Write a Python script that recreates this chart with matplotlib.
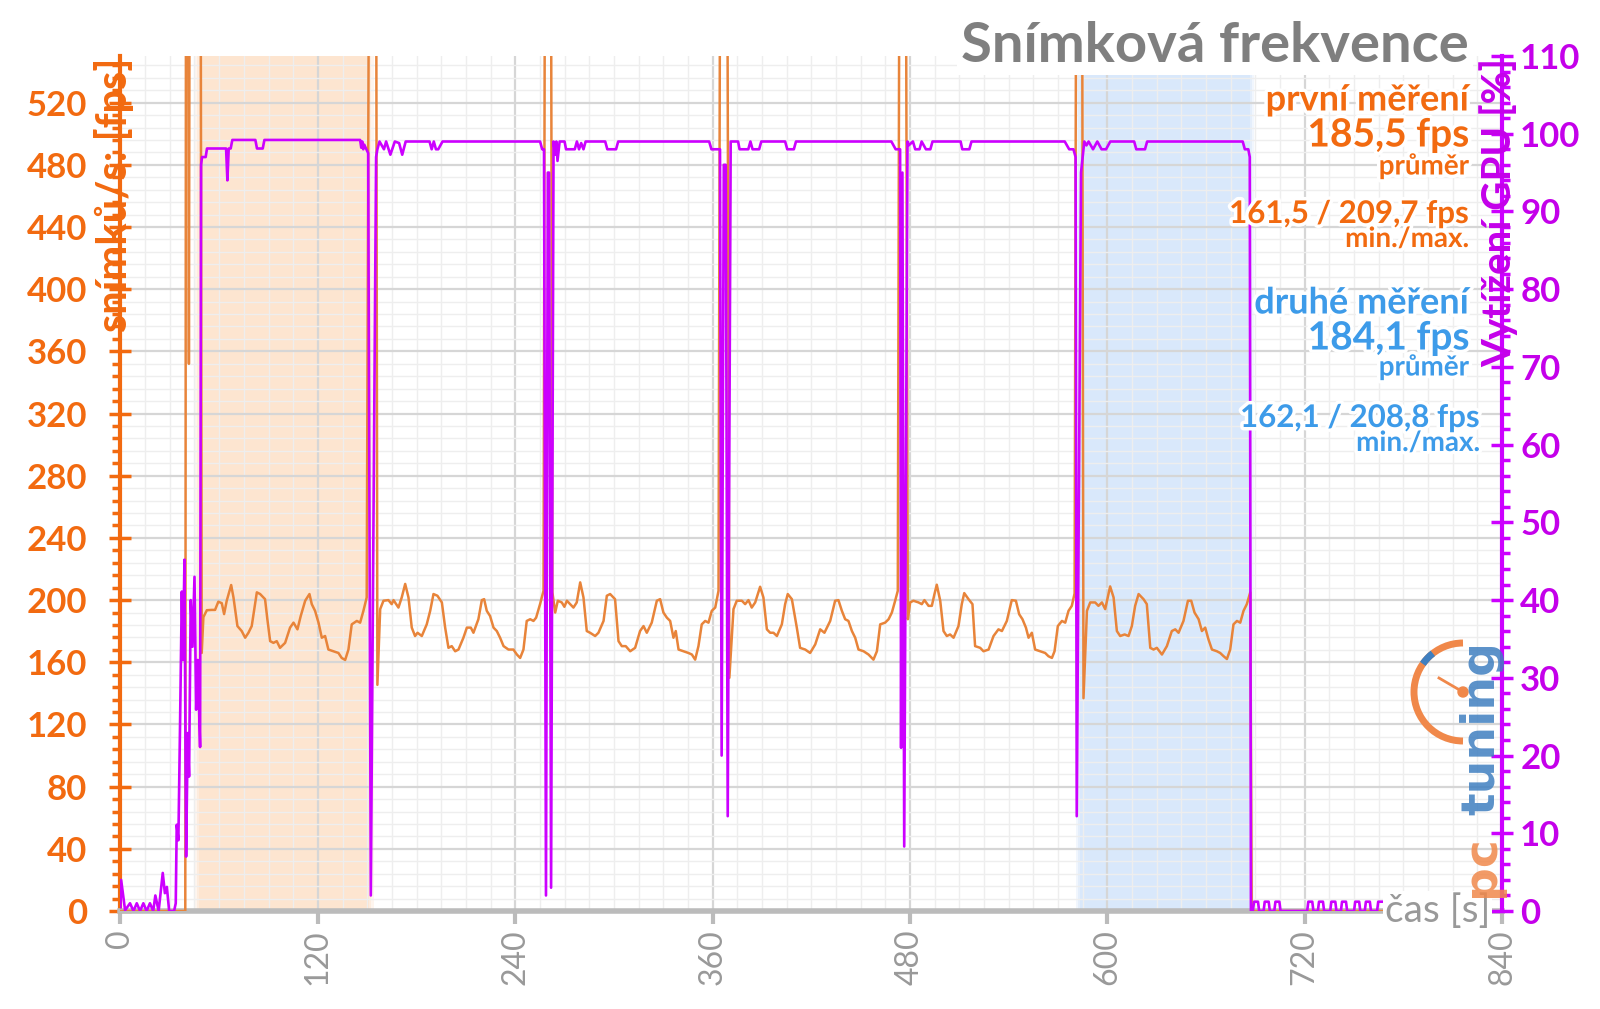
import numpy as np
import matplotlib
matplotlib.use("Agg")
import matplotlib.pyplot as plt
from matplotlib.patches import Arc, Circle
from matplotlib.lines import Line2D
from matplotlib.transforms import IdentityTransform
import matplotlib.patheffects as pe

# ---------------- data ----------------
x_ticks = [0, 120, 240, 360, 480, 600, 720, 840]
fps_ticks = list(range(0, 521, 40))
gpu_ticks = list(range(0, 111, 10))

# FPS (frames per second), pieces in time order
fps_lead_t = [0, 39.4, 39.8, 41.2, 41.6, 42.0, 48.8]
fps_lead_v = [0, 0, 600, 600, 352, 600, 600]

run1_t = [49.4, 50.4, 52.5, 55.5, 57.5, 59.5, 61.6, 63.0, 64.6, 67.3, 68.7, 71.1, 73.7, 75.8, 77.8, 79.8,
          81.2, 82.9, 84.9, 87.9, 89.3, 91.0, 93.0, 95.0, 97.0, 100.1, 103.1, 105.2, 107.6, 109.6, 112.3,
          114.9, 116.3, 118.3, 120.4, 122.4, 124.4, 126.4, 129.5, 132.5, 134.5, 136.6, 138.6, 140.6, 143.7,
          145.7, 147.7, 149.7]
run1_fps = [166, 189, 193.5, 193.7, 193.7, 199, 198, 191, 199.6, 209.7, 201.7, 183.3, 180.1, 175.8, 179, 183.3,
            193.1, 205, 203.9, 200.6, 187.7, 173.6, 172.5, 173.6, 169.3, 172.5, 182.3, 185.5, 181.2, 189.8, 199.6,
            203.9, 197.4, 193.1, 185.5, 175.8, 176.9, 168.2, 167.1, 166.0, 162.8, 161.5, 168.2, 184.4, 186.6,
            185.5, 193.1, 201.7]
trans1_t = [151.0, 155.5]
trans1_v = [600, 600]

run2_t = [156.2, 157.9, 159.9, 162.9, 164.9, 166.0, 169.0, 171.0, 173.1, 175.1, 177.1, 179.1, 180.6, 183.2,
          186.2, 188.3, 190.3, 192.7, 195.4, 197.4, 199.4, 201.4, 203.5, 205.5, 208.5, 210.6, 213.0, 214.6,
          217.6, 219.7, 221.1, 222.7, 224.7, 226.8, 228.8, 230.8, 232.9, 235.9, 238.9, 241.0, 243.0, 245.0,
          247.0, 249.1, 251.1, 252.7, 255.1, 257.2]
run2_fps = [145.5, 194.2, 199.6, 200.0, 197.4, 200.0, 195.2, 201.7, 210.4, 201.7, 182.3, 176.9, 179.0, 176.9,
            184.4, 193.1, 203.9, 202.8, 198.5, 182.3, 169.3, 170.4, 167.1, 168.2, 175.8, 182.3, 182.3, 179.0,
            187.7, 200.0, 200.6, 193.1, 189.8, 182.3, 180.1, 175.8, 170.4, 168.2, 168.2, 165.0, 162.8, 168.2,
            186.6, 187.7, 186.6, 188.7, 197.4, 206.0]
trans2_t = [258.0, 261.8]
trans2_v = [600, 600]

run3_t = [262.6, 264.3, 265.9, 268.3, 269.9, 271.4, 273.4, 275.4, 277.4, 279.5, 281.5, 283.5, 285.5, 288.6,
          290.6, 293.7, 295.7, 297.7, 300.7, 302.8, 304.8, 307.2, 309.9, 312.9, 315.9, 318.0, 320.0, 323.0,
          326.1, 328.1, 330.1, 332.2, 334.2, 336.2, 337.6, 339.3, 342.3, 345.3, 347.4, 349.4, 351.4, 353.4,
          355.5, 357.5, 359.5, 361.6, 363.6]
run3_fps = [205.0, 192.0, 199.6, 198.5, 195.7, 199.6, 197.4, 195.2, 198.5, 211.4, 201.7, 180.1, 179.0, 176.9,
            179.0, 186.6, 202.8, 203.9, 200.6, 173.6, 170.4, 170.4, 167.1, 169.3, 180.1, 183.3, 179.0, 185.5,
            199.6, 200.6, 192.0, 188.7, 186.6, 175.8, 180.1, 168.2, 167.1, 166.0, 165.0, 161.7, 170.4, 184.4,
            186.6, 185.5, 193.1, 195.2, 206.0]
trans3_t = [364.5, 369.0, 370.2]
trans3_v = [600, 600, 150]

run4_t = [372.7, 374.7, 377.8, 379.8, 381.8, 383.8, 385.9, 388.9, 390.9, 393.0, 395.0, 397.0, 399.1, 402.1,
          404.1, 405.7, 408.2, 411.2, 413.2, 416.3, 419.3, 422.4, 425.4, 428.0, 431.5, 434.5, 436.5, 438.6,
          440.6, 442.6, 444.7, 446.7, 448.7, 451.8, 454.8, 457.8, 459.9, 461.9, 464.9, 467.0, 469.0, 471.0,
          472.6]
run4_fps = [194.2, 199.6, 199.6, 197.4, 200.0, 195.2, 198.5, 208.6, 201.7, 181.2, 179.0, 179.0, 176.9, 184.4,
            197.4, 203.9, 200.6, 182.3, 169.3, 168.2, 166.0, 171.5, 181.2, 179.0, 186.6, 199.6, 200.0, 193.1,
            187.7, 186.6, 180.1, 175.8, 168.2, 167.1, 165.0, 161.7, 167.1, 184.4, 185.5, 187.7, 192.0, 199.6,
            206.0]
trans4_t = [473.5, 477.6]
trans4_v = [600, 600]

run5_t = [478.7, 480.1, 482.1, 485.2, 487.2, 488.8, 491.3, 493.3, 494.9, 496.3, 498.4, 500.4, 502.4, 504.4,
          506.5, 509.5, 511.5, 513.0, 515.6, 518.0, 519.6, 522.7, 524.7, 527.8, 530.8, 533.8, 535.9, 538.9,
          541.9, 544.4, 546.4, 548.4, 550.5, 552.1, 554.1, 556.1, 559.2, 562.2, 564.2, 566.3, 567.9, 569.9,
          572.4, 574.4, 576.4, 578.4, 580.1]
run5_fps = [187.7, 198.5, 199.6, 198.5, 197.4, 200.0, 196.3, 196.3, 203.9, 209.9, 199.6, 180.1, 176.9, 177.9,
            175.8, 183.3, 197.4, 204.5, 200.6, 197.4, 170.4, 169.3, 167.1, 168.2, 176.9, 181.2, 180.1, 186.6,
            200.0, 199.6, 190.9, 187.7, 182.3, 175.8, 179.0, 168.2, 167.1, 166.0, 163.9, 162.8, 167.1, 183.3,
            186.6, 185.5, 193.1, 196.3, 204.3]
trans5_t = [581.0, 584.7]
trans5_v = [600, 600]

run6_t = [585.5, 587.6, 589.6, 592.6, 594.6, 596.7, 598.7, 601.7, 603.8, 605.8, 607.8, 610.5, 612.9, 614.9,
          616.9, 619.0, 622.0, 624.0, 626.1, 628.1, 630.1, 633.2, 636.2, 639.2, 641.3, 643.3, 646.3, 649.0,
          651.0, 653.0, 655.5, 657.5, 659.5, 661.5, 663.6, 666.6, 668.6, 670.7, 672.7, 674.7, 676.7, 678.8,
          680.8, 682.8, 684.8, 686.9]
run6_fps = [136.9, 193.1, 198.5, 198.5, 196.3, 198.5, 194.2, 208.8, 201.7, 180.1, 176.9, 177.9, 176.9, 183.3,
            196.3, 203.9, 200.6, 197.4, 169.3, 168.2, 169.3, 165.0, 170.4, 180.1, 181.2, 179.0, 186.6, 199.6,
            199.6, 192.0, 187.7, 180.1, 182.3, 174.7, 168.2, 167.1, 166.0, 163.9, 162.1, 168.2, 184.4, 186.6,
            185.5, 193.1, 197.4, 205.0]
fps_tail_t = [687.8, 768.0]
fps_tail_v = [0, 0]

# GPU utilisation [%]
gpu_idle_t = [0.0, 0.4, 2.8, 5.8, 7.9, 9.9, 11.9, 13.9, 15.9, 17.9, 19.9, 21.2, 23.2, 25.7, 27.0, 28.2, 29.6,
              32.6, 33.6, 34.2, 35.2, 36.2, 37.3, 38.0, 38.9, 39.9, 40.9, 41.7, 42.7, 43.8, 45.0, 46.0, 47.0, 48.4]
gpu_idle_v = [0.5, 4.0, 0.1, 1.0, 0.0, 1.0, 0.0, 1.0, 0.0, 1.0, 0.0, 2.0, 0.0, 4.9, 2.3, 3.1, 0.0,
              0.0, 1.0, 11.1, 9.1, 23.7, 41.1, 32.3, 45.2, 7.0, 22.9, 17.3, 40.0, 34.0, 43.0, 25.9, 32.3, 21.1]
gpu_run1_t = [49.0, 49.6, 51.8, 52.6, 64.2, 65.0, 65.8, 67.0, 68.0, 82.0, 83.0, 86.5, 87.5, 145.7, 146.4,
              147.0, 147.6, 148.2, 149.5, 150.6, 152.2]
gpu_run1_v = [96.0, 97.0, 97.0, 98.1, 98.1, 94.0, 98.1, 98.1, 99.2, 99.2, 98.1, 98.1, 99.2, 99.2, 98.2,
              99.0, 98.0, 98.6, 98.0, 97.5, 2.0]
gpu_run2_t = [155.4, 156.2, 157.5, 160.2, 161.5, 164.1, 166.8, 169.4, 171.3, 173.4, 187.9, 189.2, 190.5,
              191.8, 193.2, 195.8, 255.1, 256.4, 257.5, 258.7, 259.8, 260.6, 261.8]
gpu_run2_v = [97.0, 98.0, 99.0, 98.0, 99.0, 97.3, 99.0, 98.8, 97.3, 99.0, 99.0, 98.0, 99.0,
              98.0, 98.0, 99.0, 99.0, 98.0, 98.0, 2.0, 95.0, 95.0, 3.0]
gpu_run3_t = [263.3, 264.3, 265.0, 265.7, 267.0, 270.0, 270.9, 276.2, 277.5, 278.8, 280.1, 281.5, 282.8,
              294.7, 296.0, 301.3, 302.6, 357.9, 359.3, 364.5, 365.5]
gpu_run3_v = [99.0, 97.3, 99.0, 96.5, 99.0, 99.0, 98.0, 98.0, 99.0, 98.0, 98.8, 98.0, 99.0,
              99.0, 98.0, 98.0, 99.0, 99.0, 98.0, 98.0, 20.0]
gpu_run4_t = [366.8, 368.0, 369.2, 371.0, 375.5, 376.4, 381.7, 383.0, 384.3, 388.3, 389.6, 404.1, 405.4,
              409.4, 410.7, 468.7, 471.3, 474.0, 474.6]
gpu_run4_v = [96.0, 96.0, 12.2, 99.0, 99.0, 98.0, 98.0, 99.0, 98.0, 98.0, 99.0, 99.0, 98.0,
              98.0, 99.0, 99.0, 98.0, 98.0, 21.0]
gpu_run5_t = [475.4, 476.5, 478.5, 479.2, 481.8, 483.2, 485.8, 487.1, 489.7, 492.4, 493.7, 510.8, 511.8,
              516.1, 517.4, 574.1, 576.8, 579.4, 580.7, 581.4]
gpu_run5_v = [95.0, 8.3, 99.0, 98.5, 99.0, 98.0, 98.0, 99.0, 98.0, 98.0, 99.0, 99.0, 98.0,
              98.0, 99.0, 99.0, 98.0, 98.0, 97.0, 12.2]
gpu_run6_t = [584.0, 586.0, 587.3, 588.6, 591.3, 593.9, 596.5, 599.2, 601.8, 616.3, 617.6, 622.9, 624.2,
              682.3, 683.6, 685.7, 686.6, 687.3]
gpu_run6_v = [95.0, 99.0, 98.5, 99.0, 98.0, 99.0, 98.0, 98.0, 99.0, 99.0, 98.0, 98.0, 99.0,
              99.0, 98.0, 98.0, 97.0, 0.0]
gpu_tail_t = [688.5, 689.2, 691.6, 692.3, 695.0, 695.7, 698.1, 698.8, 701.5, 702.2, 704.6, 705.3,
              721.5, 722.2, 724.6, 725.3, 728.0, 728.7, 731.1, 731.8, 735.5, 736.2, 738.6, 739.3,
              742.0, 742.7, 745.1, 745.8, 750.0, 750.7, 753.1, 753.8, 756.5, 757.2, 759.6, 760.3,
              764.0, 764.7, 767.0]
gpu_tail_v = [0, 1.2, 1.2, 0, 0, 1.2, 1.2, 0, 0, 1.2, 1.2, 0,
              0, 1.2, 1.2, 0, 0, 1.2, 1.2, 0, 0, 1.2, 1.2, 0,
              0, 1.2, 1.2, 0, 0, 1.2, 1.2, 0, 0, 1.2, 1.2, 0,
              0, 1.2, 1.2]

first_run_span = (47.8, 151.4)
second_run_span = (583.2, 686.9)

# ---------------- styling ----------------
ORANGE = '#f26a10'
FPS_LINE = '#e8843a'
MAGENTA = '#cc00ff'
MAG_TXT = '#c400ea'
BLUE = '#3d9be9'
GRAY = '#999999'

plt.rcParams['font.family'] = ['Lato', 'DejaVu Sans']

W, H = 1600, 1009
fig = plt.figure(figsize=(W / 100, H / 100), dpi=100)
ax = fig.add_axes([0.0753, 0.0971, 0.8635, 0.8474])
ax2 = ax.twinx()

fps_t = np.concatenate([fps_lead_t, run1_t, trans1_t, run2_t, trans2_t, run3_t, trans3_t, run4_t,
                        trans4_t, run5_t, trans5_t, run6_t, fps_tail_t])
fps_v = np.concatenate([fps_lead_v, run1_fps, trans1_v, run2_fps, trans2_v, run3_fps, trans3_v, run4_fps,
                        trans4_v, run5_fps, trans5_v, run6_fps, fps_tail_v])
gpu_t = np.concatenate([gpu_idle_t, gpu_run1_t, gpu_run2_t, gpu_run3_t, gpu_run4_t, gpu_run5_t,
                        gpu_run6_t, gpu_tail_t])
gpu_v = np.concatenate([gpu_idle_v, gpu_run1_v, gpu_run2_v, gpu_run3_v, gpu_run4_v, gpu_run5_v,
                        gpu_run6_v, gpu_tail_v])

ax.set_xlim(0, 840)
ax.set_ylim(0, 550)
ax2.set_ylim(0, 110)

# shaded runs with soft edges
for (a, b), col in [(first_run_span, '#fde5d0'), (second_run_span, '#d9e8fb')]:
    ax.axvspan(a - 2.5, b + 2.5, color=col, alpha=0.35, lw=0, zorder=0)
    ax.axvspan(a - 1.0, b + 1.0, color=col, alpha=0.5, lw=0, zorder=0)
    ax.axvspan(a, b, color=col, lw=0, zorder=0)

ax.set_axisbelow(True)
ax.set_xticks(x_ticks)
ax.set_xticks(np.arange(0, 841, 15), minor=True)
ax.set_yticks(fps_ticks)
ax.set_yticks(np.arange(0, 551, 8), minor=True)
ax.grid(which='major', color='#d6d6d6', lw=1.6)
ax.grid(which='minor', color='#eeeeee', lw=1.0)

ax2.set_yticks(gpu_ticks)
ax2.set_yticks(np.arange(0, 111, 2), minor=True)

ax.plot(fps_t, fps_v, color=FPS_LINE, lw=1.8, zorder=3)
ax2.plot(gpu_t, gpu_v, color=MAGENTA, lw=1.9, zorder=3)

for s in ['top', 'right']:
    ax.spines[s].set_visible(False)
for s in ['top', 'left', 'bottom']:
    ax2.spines[s].set_visible(False)
ax.spines['left'].set_color(ORANGE)
ax.spines['left'].set_linewidth(3)
ax.spines['bottom'].set_color('#bbbbbb')
ax.spines['bottom'].set_linewidth(4)
ax2.spines['right'].set_color(MAGENTA)
ax2.spines['right'].set_linewidth(3)

ax.tick_params(axis='y', which='major', direction='inout', length=16, width=2.5, color=ORANGE,
               labelcolor=ORANGE, labelsize=25, pad=16)
ax.tick_params(axis='y', which='minor', direction='out', length=6, width=2.5, color=ORANGE)
ax.tick_params(axis='x', which='major', direction='out', length=9, width=3, color='#bbbbbb',
               labelcolor=GRAY, labelsize=23, labelrotation=90, pad=4)
ax.tick_params(axis='x', which='minor', length=0)
ax2.tick_params(axis='y', which='major', direction='inout', length=16, width=2.5, color=MAGENTA,
                labelcolor=MAG_TXT, labelsize=25, pad=5)
ax2.tick_params(axis='y', which='minor', direction='out', length=6, width=2.5, color=MAGENTA)
for lbl in ax.get_yticklabels() + ax2.get_yticklabels():
    lbl.set_fontweight('bold')


def ftxt(xp, yp, s, **kw):
    return fig.text(xp / W, 1 - yp / H, s, **kw)


halo = [pe.withStroke(linewidth=5, foreground='white')]

# axis labels
ftxt(114, 58, 'snímků/s: [fps]', rotation=90, ha='center', va='top', color=ORANGE,
     fontsize=30, fontweight='bold')
ftxt(1499, 58, 'Vytížení GPU [%]', rotation=90, ha='center', va='top', color=MAG_TXT,
     fontsize=29, fontweight='bold')
ftxt(1490, 911, 'čas [s]', ha='right', va='center', color=GRAY, fontsize=28,
     bbox=dict(fc='white', ec='none', pad=1))

# title
ftxt(1469, 46, 'Snímková frekvence', ha='right', va='center', color='#7f7f7f', fontsize=40.5,
     fontweight='bold', bbox=dict(fc='white', ec='none', pad=3))

# legend-like text block
blk = [
    (100, 'první měření', 26, ORANGE, 1469),
    (135, '185,5 fps', 28, ORANGE, 1469),
    (166, 'průměr', 20, ORANGE, 1469),
    (214, '161,5 / 209,7 fps', 22.5, ORANGE, 1469),
    (239, 'min./max.', 20, ORANGE, 1469),
    (303, 'druhé měření', 26, BLUE, 1469),
    (338, '184,1 fps', 28, BLUE, 1469),
    (367, 'průměr', 20, BLUE, 1469),
    (418, '162,1 / 208,8 fps', 22.5, BLUE, 1480),
    (443, 'min./max.', 20, BLUE, 1480),
]
for yp, s, fs, col, xp in blk:
    ftxt(xp, yp, s, ha='right', va='center', color=col, fontsize=fs, fontweight='bold',
         path_effects=halo)

# pctuning logo
LOGO_O = '#f0884a'
LOGO_B = '#3f7fc0'
ftxt(1482, 897, 'pc', rotation=90, ha='center', va='bottom', color=LOGO_O, fontsize=34,
     fontweight='bold', alpha=0.85, family='DejaVu Sans')
ftxt(1482, 815, 'tuning', rotation=90, ha='center', va='bottom', color=LOGO_B, fontsize=34,
     fontweight='bold', alpha=0.85, family='DejaVu Sans')
cx, cy = 1463, H - 692
fig.patches.append(Arc((cx, cy), 98, 98, theta1=90, theta2=270, lw=5, color=LOGO_O,
                       transform=IdentityTransform(), figure=fig))
fig.patches.append(Arc((cx, cy), 98, 98, theta1=128, theta2=145, lw=5, color=LOGO_B,
                       transform=IdentityTransform(), figure=fig))
fig.lines.append(Line2D([cx, cx - 24], [cy, cy + 14], lw=2, color=LOGO_O,
                        transform=IdentityTransform(), figure=fig))
fig.patches.append(Circle((cx, cy), 5, color=LOGO_O, transform=IdentityTransform(), figure=fig))

fig.savefig('out.png', dpi=100)
